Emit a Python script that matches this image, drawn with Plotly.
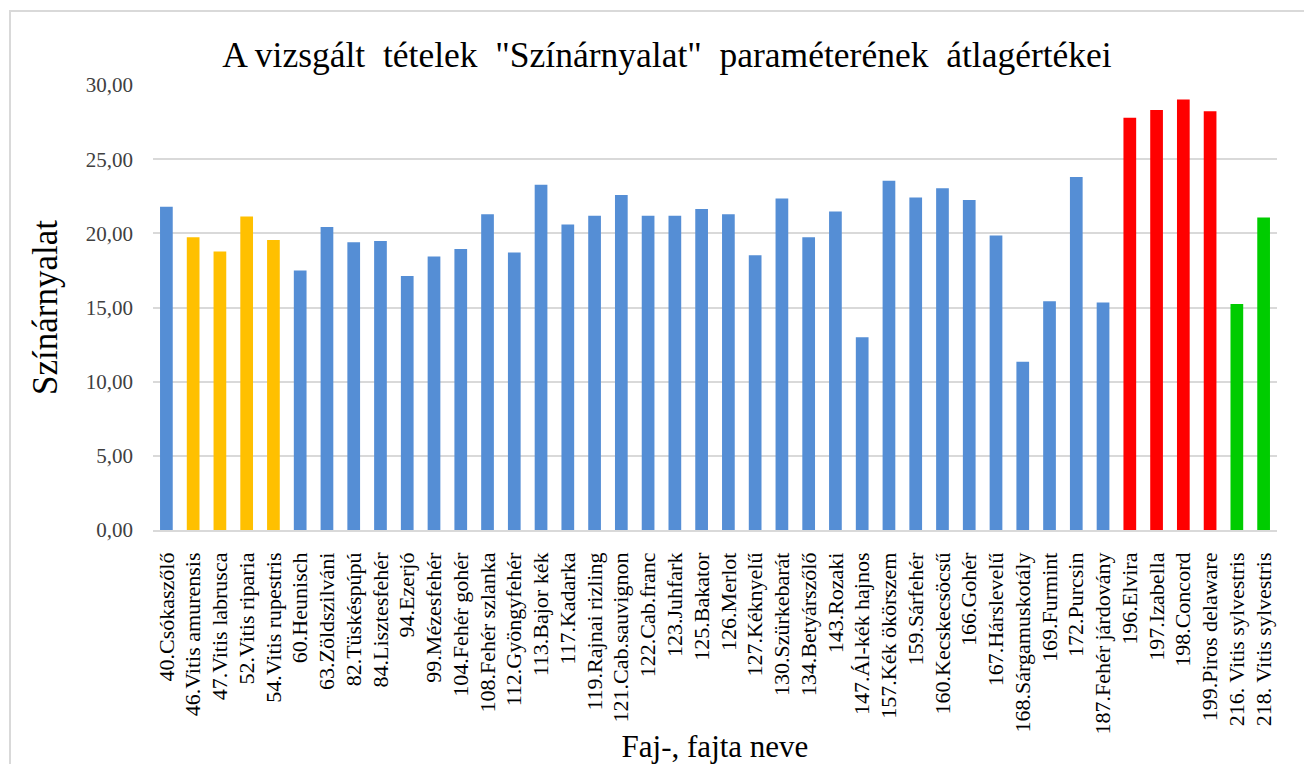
import plotly.graph_objects as go

categories = [
    "40.Csókaszőlő", "46.Vitis amurensis", "47.Vitis labrusca", "52.Vitis riparia",
    "54.Vitis rupestris", "60.Heunisch", "63.Zöldszilváni", "82.Tüskéspúpú",
    "84.Lisztesfehér", "94.Ezerjó", "99.Mézesfehér", "104.Fehér gohér",
    "108.Fehér szlanka", "112.Gyöngyfehér", "113.Bajor kék", "117.Kadarka",
    "119.Rajnai rizling", "121.Cab.sauvignon", "122.Cab.franc", "123.Juhfark",
    "125.Bakator", "126.Merlot", "127.Kéknyelű", "130.Szürkebarát",
    "134.Betyárszőlő", "143.Rozaki", "147.Ál-kék hajnos", "157.Kék ökörszem",
    "159.Sárfehér", "160.Kecskecsöcsű", "166.Gohér", "167.Hárslevelű",
    "168.Sárgamuskotály", "169.Furmint", "172.Purcsin", "187.Fehér járdovány",
    "196.Elvira", "197.Izabella", "198.Concord", "199.Piros delaware",
    "216. Vitis sylvestris", "218. Vitis sylvestris",
]

values = [
    21.80, 19.73, 18.77, 21.13, 19.55, 17.49, 20.43, 19.40, 19.49, 17.13,
    18.43, 18.95, 21.29, 18.70, 23.28, 20.59, 21.19, 22.59, 21.19, 21.19,
    21.64, 21.29, 18.52, 22.34, 19.73, 21.47, 12.99, 23.55, 22.41, 23.04,
    22.25, 19.85, 11.35, 15.42, 23.80, 15.33, 27.80, 28.32, 29.02, 28.23,
    15.24, 21.06,
]

groups = (
    ["blue"] + ["yellow"] * 4 + ["blue"] * 31 + ["red"] * 4 + ["green"] * 2
)
palette = {"blue": "#558ED5", "yellow": "#FFC000", "red": "#FF0000", "green": "#00CC00"}
colors = [palette[g] for g in groups]

tick_vals = [0, 5, 10, 15, 20, 25, 30]

fig = go.Figure(
    go.Bar(
        x=categories,
        y=values,
        marker=dict(color=colors, line=dict(width=0)),
        width=0.475,
    )
)

serif = "Liberation Serif, Times New Roman, serif"

W, H = 1312, 764
L, T, PW, PH = 145, 77, 1124, 445

fig.update_layout(
    width=W,
    height=H,
    paper_bgcolor="white",
    plot_bgcolor="white",
    separators=", ",
    margin=dict(l=L, r=W - L - PW, t=T, b=H - T - PH, autoexpand=False),
    showlegend=False,
    title=dict(
        text="A vizsgált\u00a0 tételek\u00a0 \"Színárnyalat\"\u00a0 paraméterének\u00a0 átlagértékei",
        x=(667 - 8) / W,
        xanchor="center",
        y=1 - 47 / H,
        yanchor="middle",
        font=dict(family=serif, size=35.5, color="#000000"),
    ),
    font=dict(family=serif),
)

fig.update_yaxes(
    range=[0, 30],
    tickvals=tick_vals,
    tickformat=".2f",
    showgrid=True,
    gridcolor="#D9D9D9",
    gridwidth=1.5,
    zeroline=False,
    showline=False,
    ticks="",
    ticklabelstandoff=19,
    tickfont=dict(family=serif, size=21, color="#404040"),
    title=dict(text="Színárnyalat", font=dict(family=serif, size=35, color="#000000"), standoff=17),
)

fig.update_xaxes(
    tickmode="linear",
    tick0=0,
    dtick=1,
    tickangle=-90,
    showgrid=False,
    showline=True,
    linecolor="#D9D9D9",
    linewidth=1.5,
    ticks="",
    ticklabelstandoff=12,
    tickfont=dict(family=serif, size=22, color="#000000"),
    title=dict(text="Faj-, fajta neve", font=dict(family=serif, size=31, color="#000000"), standoff=2),
    automargin=False,
)

# outer chart frame (as in the source image)
fig.add_shape(
    type="rect",
    xref="paper", yref="paper",
    x0=(2 - L) / PW, x1=(1330 - L) / PW,
    y0=(T + PH - 790) / PH, y1=(T + PH - 3) / PH,
    line=dict(color="#D9D9D9", width=2),
    fillcolor="rgba(0,0,0,0)",
    layer="below",
)

fig.write_html("out.html")
